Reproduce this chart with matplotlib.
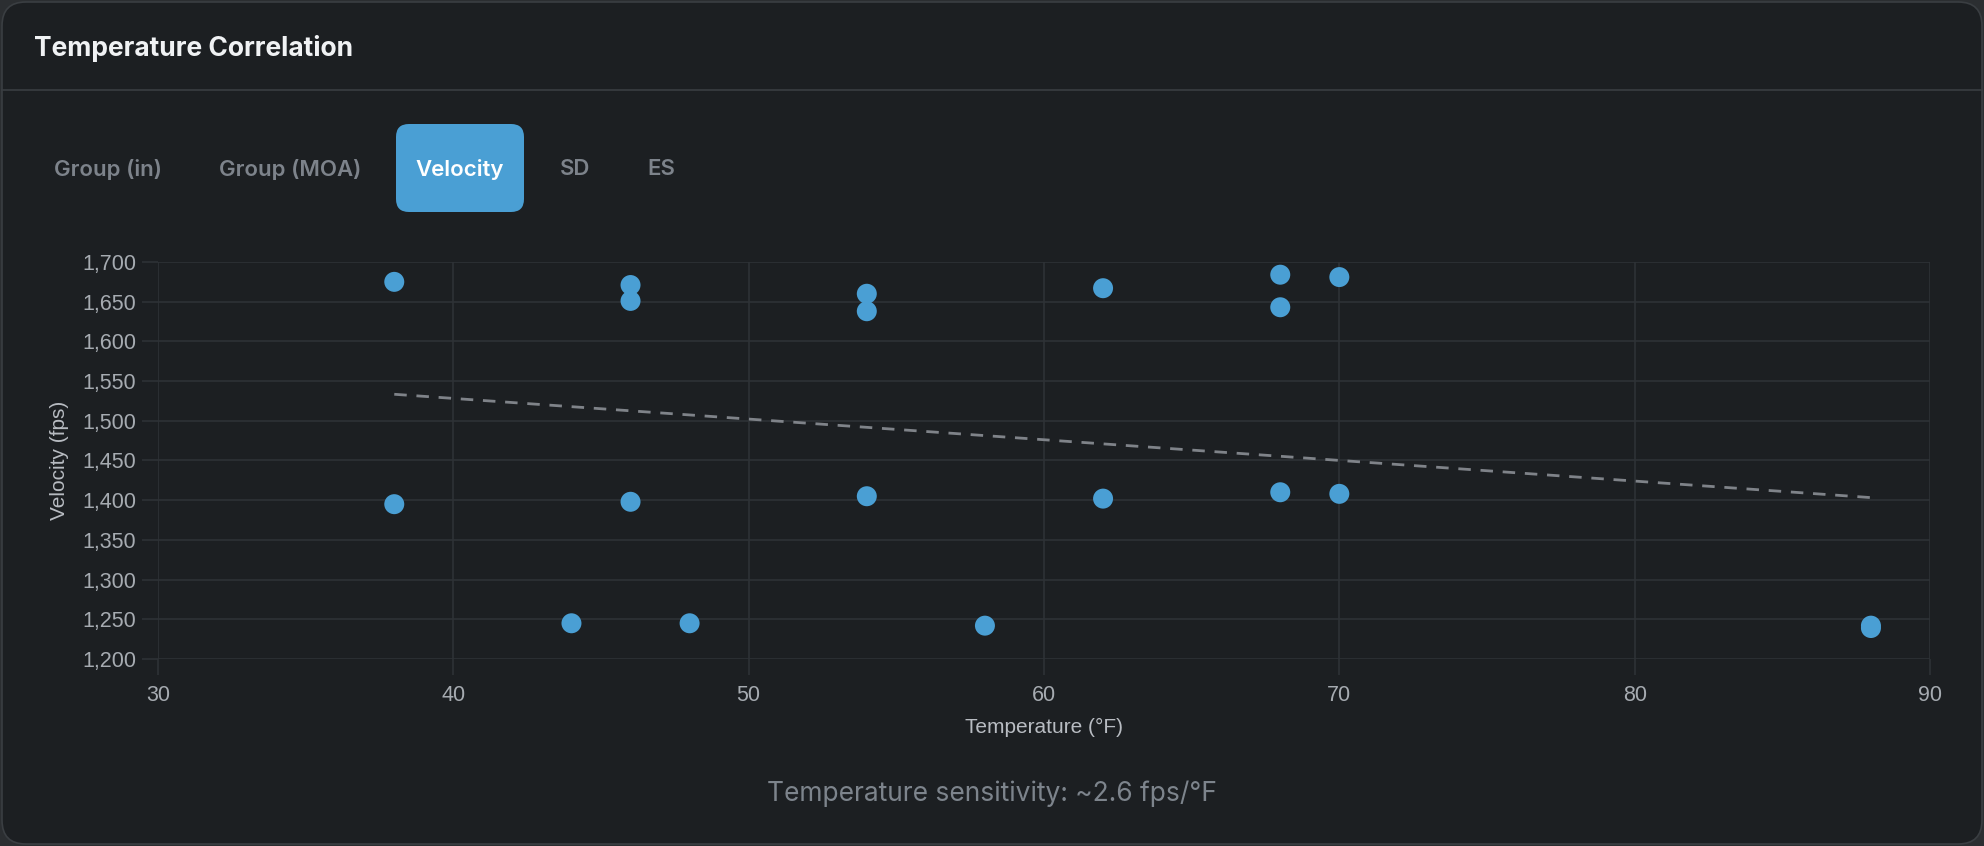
import matplotlib
matplotlib.use('Agg')
import matplotlib.pyplot as plt
from matplotlib.patches import FancyBboxPatch
import numpy as np

# data
temps = [38, 38, 44, 46, 46, 46, 48, 54, 54, 54, 58, 62, 62, 68, 68, 68, 70, 70, 88, 88]
velocity = [1675, 1395, 1245, 1671, 1651, 1398, 1245, 1660, 1638, 1405, 1242,
            1667, 1402, 1684, 1643, 1410, 1681, 1408, 1242, 1239]
tabs = ['Group (in)', 'Group (MOA)', 'Velocity', 'SD', 'ES']
tab_x = [108, 290, 460, 575, 661]   # tab centres, px
active_tab = 'Velocity'
x_ticks = [30, 40, 50, 60, 70, 80, 90]
y_ticks = list(range(1200, 1701, 50))

W, H = 1984, 846
BG = '#1c1f22'
GRID = '#2e3236'
BLUE = '#4a9fd4'
UI_FONT = ['Inter', 'DejaVu Sans']
CHART_FONT = ['Liberation Sans', 'DejaVu Sans']

fig = plt.figure(figsize=(W / 100, H / 100), dpi=100)
fig.patch.set_facecolor('#2b2e31')


def fx(px):
    return px / W


def fy(py):
    return 1 - py / H


# card
card = FancyBboxPatch((fx(2), fy(844)), fx(1980), 842 / H,
                      boxstyle='round,pad=0,rounding_size=0.012',
                      transform=fig.transFigure, facecolor=BG,
                      edgecolor='#3a3e42', linewidth=1.2, mutation_aspect=W / H,
                      zorder=-10)
fig.patches.append(card)
fig.add_artist(plt.Line2D([fx(2), fx(1982)], [fy(90), fy(90)],
                          transform=fig.transFigure, color='#3a3e42', linewidth=1.2,
                          zorder=-9))

fig.text(fx(34), fy(48), 'Temperature Correlation', color='#f0f2f4',
         fontsize=19, fontweight='bold', family=UI_FONT, va='center', ha='left')

# tab buttons
for name, cx in zip(tabs, tab_x):
    if name == active_tab:
        btn = FancyBboxPatch((fx(396), fy(212)), fx(128), 88 / H,
                             boxstyle='round,pad=0,rounding_size=0.0065',
                             transform=fig.transFigure, facecolor=BLUE,
                             edgecolor='none', mutation_aspect=W / H, zorder=-8)
        fig.patches.append(btn)
        col = '#ffffff'
    else:
        col = '#7d838b'
    fig.text(fx(cx), fy(169), name, color=col, fontsize=16, fontweight='semibold',
             family=UI_FONT, ha='center', va='center')

# scatter chart
ax = fig.add_axes([fx(158), fy(659), fx(1930 - 158), (659 - 262) / H])
ax.set_facecolor(BG)
ax.scatter(temps, velocity, s=207, color=BLUE, edgecolors='none', zorder=3)

k, b = np.polyfit(temps, velocity, 1)
tx = np.array([min(temps), max(temps)])
ax.plot(tx, k * tx + b, color='#7f8389', linewidth=2, dashes=(4.5, 3.5), zorder=2)

ax.set_xlim(30, 90)
ax.set_ylim(1200, 1700)
ax.set_xticks(x_ticks)
ax.set_yticks(y_ticks)
ax.set_yticklabels([f'{v:,}' for v in y_ticks])
ax.grid(True, color=GRID, linewidth=1.2)
ax.set_axisbelow(True)
for s in ax.spines.values():
    s.set_visible(False)
ax.tick_params(axis='both', colors=GRID, length=11.5, width=1.2,
               labelcolor='#a6abb1', labelsize=15.5)
ax.tick_params(axis='x', pad=7)
ax.tick_params(axis='y', pad=4)
for lab in ax.get_xticklabels() + ax.get_yticklabels():
    lab.set_family(CHART_FONT)

ax.set_xlabel('Temperature (°F)', color='#b8bcc2', fontsize=15, family=CHART_FONT, labelpad=9)
ax.set_ylabel('Velocity (fps)', color='#b8bcc2', fontsize=15, family=CHART_FONT, labelpad=10)

fig.text(0.5, fy(794), 'Temperature sensitivity: ~%.1f fps/°F' % abs(k), color='#7d848c',
         fontsize=19, family=UI_FONT, ha='center', va='center')

fig.savefig('out.png', dpi=100, facecolor=fig.get_facecolor())
